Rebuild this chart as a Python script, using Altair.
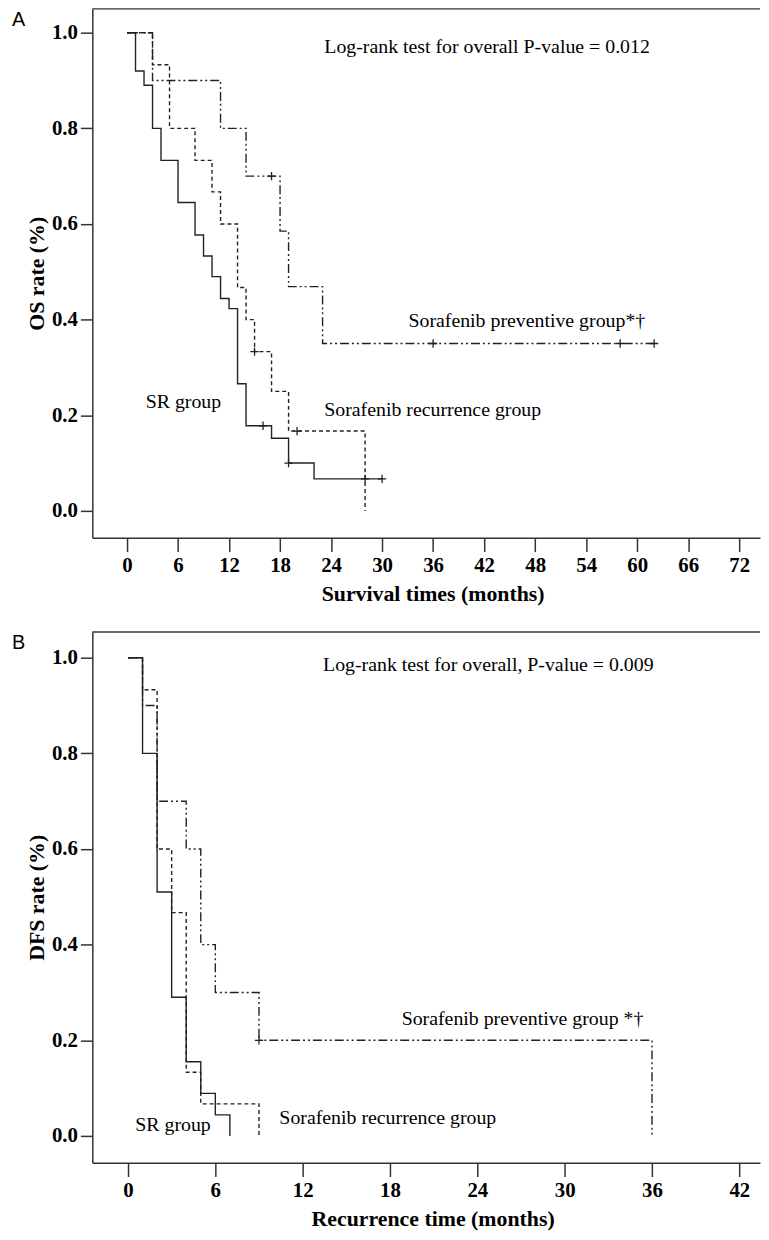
import altair as alt
import pandas as pd

GROUPS = ["SR group", "Sorafenib recurrence group", "Sorafenib preventive group"]
DASHES = [[1, 0], [4, 3], [9, 3, 2, 3, 2, 3]]

# ---------------- Panel A: overall survival ----------------
a_sr_t = [0, 1, 2, 3, 4, 6, 8, 9, 10, 11, 12, 13, 14, 17, 19, 22, 30]
a_sr_s = [1.0, 0.92, 0.89, 0.80, 0.733, 0.645, 0.577, 0.533, 0.49, 0.444, 0.423, 0.266, 0.178, 0.152, 0.10, 0.067, 0.067]
a_rec_t = [0, 3, 5, 8, 10, 11, 13, 14, 15, 17, 19, 28]
a_rec_s = [1.0, 0.933, 0.80, 0.733, 0.667, 0.60, 0.467, 0.40, 0.333, 0.25, 0.167, 0.0]
a_pre_t = [0, 3, 11, 14, 18, 19, 23, 62]
a_pre_s = [1.0, 0.90, 0.80, 0.70, 0.585, 0.469, 0.35, 0.35]
a_cens_t = [16, 19, 28, 30, 15, 20, 17, 36, 58, 62]
a_cens_s = [0.178, 0.10, 0.067, 0.067, 0.333, 0.167, 0.70, 0.35, 0.35, 0.35]
a_labels = ["Log-rank test for overall P-value = 0.012", "Sorafenib preventive group*†",
            "SR group", "Sorafenib recurrence group"]
a_label_t = [23.2, 33.1, 2.2, 23.2]
a_label_s = [0.969, 0.398, 0.228, 0.21]
a_xticks = [0, 6, 12, 18, 24, 30, 36, 42, 48, 54, 60, 66, 72]

# ---------------- Panel B: disease-free survival ----------------
b_sr_t = [0, 1, 2, 3, 4, 5, 6, 7]
b_sr_s = [1.0, 0.80, 0.51, 0.29, 0.155, 0.089, 0.044, 0.0]
b_rec_t = [0, 1, 2, 3, 4, 5, 9]
b_rec_s = [1.0, 0.933, 0.60, 0.467, 0.133, 0.067, 0.0]
b_pre_t = [0, 1, 2, 4, 5, 6, 9, 36]
b_pre_s = [1.0, 0.90, 0.70, 0.60, 0.40, 0.30, 0.20, 0.0]
b_cens_t = [9]
b_cens_s = [0.20]
b_labels = ["Log-rank test for overall, P-value = 0.009", "Sorafenib preventive group *†",
            "SR group", "Sorafenib recurrence group"]
b_label_t = [13.4, 18.8, 0.5, 10.4]
b_label_s = [0.985, 0.245, 0.023, 0.037]
b_xticks = [0, 6, 12, 18, 24, 30, 36, 42]

y_ticks = [0.0, 0.2, 0.4, 0.6, 0.8, 1.0]

W = 673
CROSS = "M-1,0L1,0M0,-1L0,1"


def lines_df(series):
    rows = []
    for g, ts, ss in series:
        for t, s in zip(ts, ss):
            rows.append({"g": g, "t": t, "s": s})
    return pd.DataFrame(rows)


def panel(series, cens_t, cens_s, labels, label_t, label_s, letter,
          xdom, xticks, ydom, xtitle, ytitle, h):
    xs = alt.Scale(domain=xdom, nice=False, zero=False)
    ys = alt.Scale(domain=ydom, nice=False, zero=False)
    xax = alt.Axis(values=xticks, title=xtitle, tickSize=14, labelPadding=3,
                   titlePadding=8, format="d", titleX=343)
    yax = alt.Axis(values=y_ticks, title=ytitle, tickSize=12, labelPadding=3,
                   titlePadding=3, format=".1f")
    xenc = alt.X("t:Q", scale=xs, axis=xax)
    yenc = alt.Y("s:Q", scale=ys, axis=yax)

    lines = alt.Chart(lines_df(series)).mark_line(
        interpolate="step-after", color="#222", strokeWidth=1.4
    ).encode(
        x=xenc, y=yenc,
        strokeDash=alt.StrokeDash("g:N", scale=alt.Scale(domain=GROUPS, range=DASHES), legend=None),
    )
    cens = alt.Chart(pd.DataFrame({"t": cens_t, "s": cens_s})).mark_point(
        shape=CROSS, filled=False, size=70, strokeWidth=1.3, color="#222", opacity=1
    ).encode(x=xenc, y=yenc)
    texts = alt.Chart(pd.DataFrame({"t": label_t, "s": label_s, "l": labels})).mark_text(
        align="left", baseline="middle", font="Liberation Serif", fontSize=20, color="black"
    ).encode(x=xenc, y=yenc, text="l:N")
    top = alt.Chart(pd.DataFrame({"d": [0]})).mark_rule(color="#333", strokeWidth=1.5).encode(
        x=alt.value(0), x2=alt.value(W), y=alt.value(0)
    )
    let = alt.Chart(pd.DataFrame({"l": [letter]})).mark_text(
        align="left", baseline="top", font="Liberation Sans", fontSize=20, color="black"
    ).encode(x=alt.value(-81), y=alt.value(1), text="l:N")
    return alt.layer(lines, cens, texts, top, let).properties(width=W, height=h)


A = panel([(GROUPS[0], a_sr_t, a_sr_s), (GROUPS[1], a_rec_t, a_rec_s), (GROUPS[2], a_pre_t, a_pre_s)],
          a_cens_t, a_cens_s, a_labels, a_label_t, a_label_s, "A",
          [-4.08, 74.45], a_xticks, [-0.056, 1.0498],
          "Survival times (months)", "OS rate (%)", 533)
B = panel([(GROUPS[0], b_sr_t, b_sr_s), (GROUPS[1], b_rec_t, b_rec_s), (GROUPS[2], b_pre_t, b_pre_s)],
          b_cens_t, b_cens_s, b_labels, b_label_t, b_label_s, "B",
          [-2.45, 43.42], b_xticks, [-0.056, 1.054],
          "Recurrence time (months)", "DFS rate (%)", 535)

chart = alt.vconcat(A, B, spacing=27).properties(
    padding={"left": 4, "top": -5, "right": 0, "bottom": 0}
).configure_view(stroke=None).configure_axis(
    grid=False,
    labelFont="Liberation Serif", labelFontWeight="bold", labelFontSize=21, labelColor="black",
    titleFont="Liberation Serif", titleFontWeight="bold", titleFontSize=22, titleColor="black",
    domainColor="#333", tickColor="#333", domainWidth=1.5, tickWidth=1.5,
)

chart.save("out.html", embed_options={"renderer": "svg", "actions": False})
